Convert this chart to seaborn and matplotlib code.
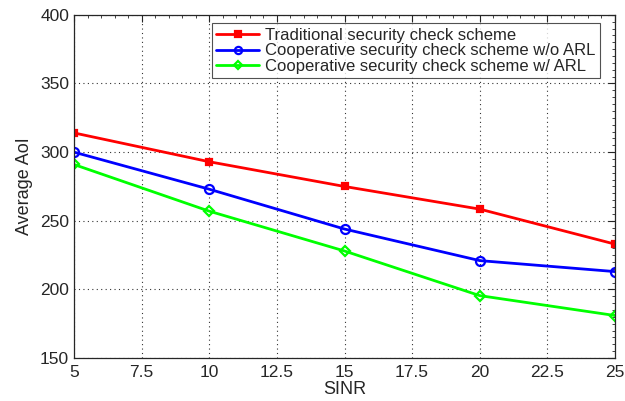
import numpy as np
import pandas as pd
import matplotlib
matplotlib.use("Agg")
import matplotlib.pyplot as plt
from matplotlib.ticker import MultipleLocator, AutoMinorLocator
import seaborn as sns

sinr = [5, 10, 15, 20, 25]
traditional = [314, 293, 275, 258.5, 233]
coop_wo_arl = [300, 273, 244, 221, 213]
coop_w_arl = [291, 257, 228, 195.5, 181]

series_names = [
    "Traditional security check scheme",
    "Cooperative security check scheme w/o ARL",
    "Cooperative security check scheme w/ ARL",
]

df = pd.DataFrame({
    "SINR": sinr * 3,
    "AoI": traditional + coop_wo_arl + coop_w_arl,
    "scheme": np.repeat(series_names, len(sinr)),
})

sns.set_style("white")
plt.rcParams["font.family"] = ["Liberation Sans", "DejaVu Sans"]

fig, ax = plt.subplots(figsize=(6.25, 4.01), dpi=100)
fig.subplots_adjust(left=0.1184, right=0.984, top=0.963, bottom=0.107)

palette = {series_names[0]: "#ff0000", series_names[1]: "#0000ff", series_names[2]: "#00ff00"}
markers = {series_names[0]: "s", series_names[1]: "o", series_names[2]: "D"}

sns.lineplot(data=df, x="SINR", y="AoI", hue="scheme", style="scheme",
             palette=palette, markers=markers, dashes=False, linewidth=2,
             ax=ax, legend=False)

# Marker styling: filled square, open circle and diamond
for line, name in zip(ax.lines, series_names):
    c = palette[name]
    line.set_markeredgecolor(c)
    line.set_markeredgewidth(1.6)
    if name == series_names[0]:
        line.set_markerfacecolor(c)
        line.set_markersize(5)
    elif name == series_names[1]:
        line.set_markerfacecolor("none")
        line.set_markersize(6.5)
    else:
        line.set_markerfacecolor("none")
        line.set_markersize(5.5)
    line.set_label(name)

ax.set_xlim(5, 25)
ax.set_ylim(150, 400)
ax.set_xticks([5, 7.5, 10, 12.5, 15, 17.5, 20, 22.5, 25])
ax.set_xticklabels(["5", "7.5", "10", "12.5", "15", "17.5", "20", "22.5", "25"])
ax.yaxis.set_major_locator(MultipleLocator(50))
ax.xaxis.set_minor_locator(AutoMinorLocator(5))
ax.yaxis.set_minor_locator(AutoMinorLocator(10))

ax.grid(True, which="major", linestyle=(0, (1, 3)), color="black", linewidth=0.8, alpha=0.8)
ax.tick_params(which="both", direction="in", top=True, right=True, colors="#262626",
               labelsize=12.5)
ax.tick_params(which="major", length=5, width=0.8)
ax.tick_params(which="minor", length=2.5, width=0.6)
ax.tick_params(axis="x", which="major", pad=5)
for s in ax.spines.values():
    s.set_color("#262626")
    s.set_linewidth(0.9)

ax.set_xlabel("SINR", fontsize=13, color="#262626", labelpad=1)
ax.set_ylabel("Average AoI", fontsize=13, color="#262626", labelpad=5)

leg = ax.legend(loc="upper right", bbox_to_anchor=(0.972, 0.975), fontsize=12,
                frameon=True, fancybox=False, edgecolor="#262626",
                handlelength=2.6, handletextpad=0.35, labelspacing=0.05,
                borderpad=0.25, borderaxespad=0.0, markerscale=0.8)
leg.get_frame().set_linewidth(0.8)

fig.savefig("out.png", dpi=100)
